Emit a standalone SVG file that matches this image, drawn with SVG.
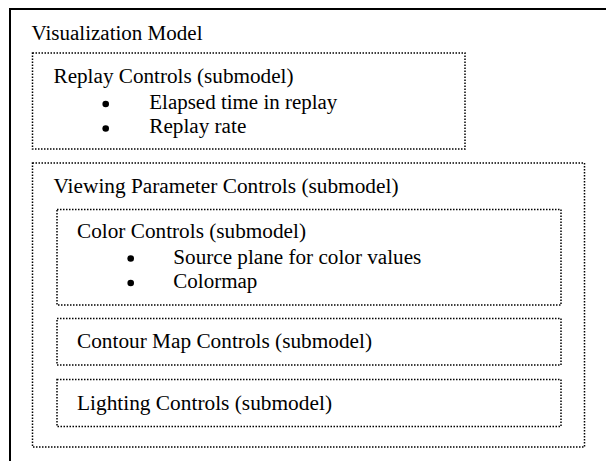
<svg xmlns="http://www.w3.org/2000/svg" width="606" height="461" viewBox="0 0 606 461">
<style>
  .t { font-family: "Liberation Serif", "Times New Roman", serif; font-size: 20.5px; fill: #000; }
  .box { fill: none; stroke: #000; stroke-width: 1.5; stroke-dasharray: 1.5 1.5; }
  .outer { fill: #fff; stroke: #000; stroke-width: 2; }
</style>
<rect width="606" height="461" fill="#fff"/>
<g id="visualization-model">
  <rect class="outer" x="10" y="9" width="700" height="500"/>
  <text class="t" x="31.5" y="40" textLength="171" lengthAdjust="spacingAndGlyphs">Visualization Model</text>
</g>
<g id="replay-controls">
  <rect class="box" x="32.5" y="53" width="432.5" height="96"/>
  <text class="t" x="53.5" y="83" textLength="240" lengthAdjust="spacingAndGlyphs">Replay Controls (submodel)</text>
  <circle cx="105.7" cy="104" r="3.3"/>
  <text class="t" x="149.3" y="109.3" textLength="188" lengthAdjust="spacingAndGlyphs">Elapsed time in replay</text>
  <circle cx="105.7" cy="128.5" r="3.3"/>
  <text class="t" x="149.3" y="133.3" textLength="97" lengthAdjust="spacingAndGlyphs">Replay rate</text>
</g>
<g id="viewing-parameter-controls">
  <rect class="box" x="32.5" y="163" width="552" height="284"/>
  <text class="t" x="53.5" y="192.5" textLength="345" lengthAdjust="spacingAndGlyphs">Viewing Parameter Controls (submodel)</text>
</g>
<g id="color-controls">
  <rect class="box" x="57" y="209.5" width="504" height="95.5"/>
  <text class="t" x="77" y="238" textLength="229" lengthAdjust="spacingAndGlyphs">Color Controls (submodel)</text>
  <circle cx="130.7" cy="258.5" r="3.3"/>
  <text class="t" x="173.3" y="264" textLength="248" lengthAdjust="spacingAndGlyphs">Source plane for color values</text>
  <circle cx="130.7" cy="283" r="3.3"/>
  <text class="t" x="173.3" y="288" textLength="84" lengthAdjust="spacingAndGlyphs">Colormap</text>
</g>
<g id="contour-map-controls">
  <rect class="box" x="57" y="318.5" width="504" height="46.5"/>
  <text class="t" x="77" y="348.3" textLength="295" lengthAdjust="spacingAndGlyphs">Contour Map Controls (submodel)</text>
</g>
<g id="lighting-controls">
  <rect class="box" x="57" y="379.5" width="504" height="47"/>
  <text class="t" x="77" y="410" textLength="255" lengthAdjust="spacingAndGlyphs">Lighting Controls (submodel)</text>
</g>
<g id="connectors"></g>
</svg>
